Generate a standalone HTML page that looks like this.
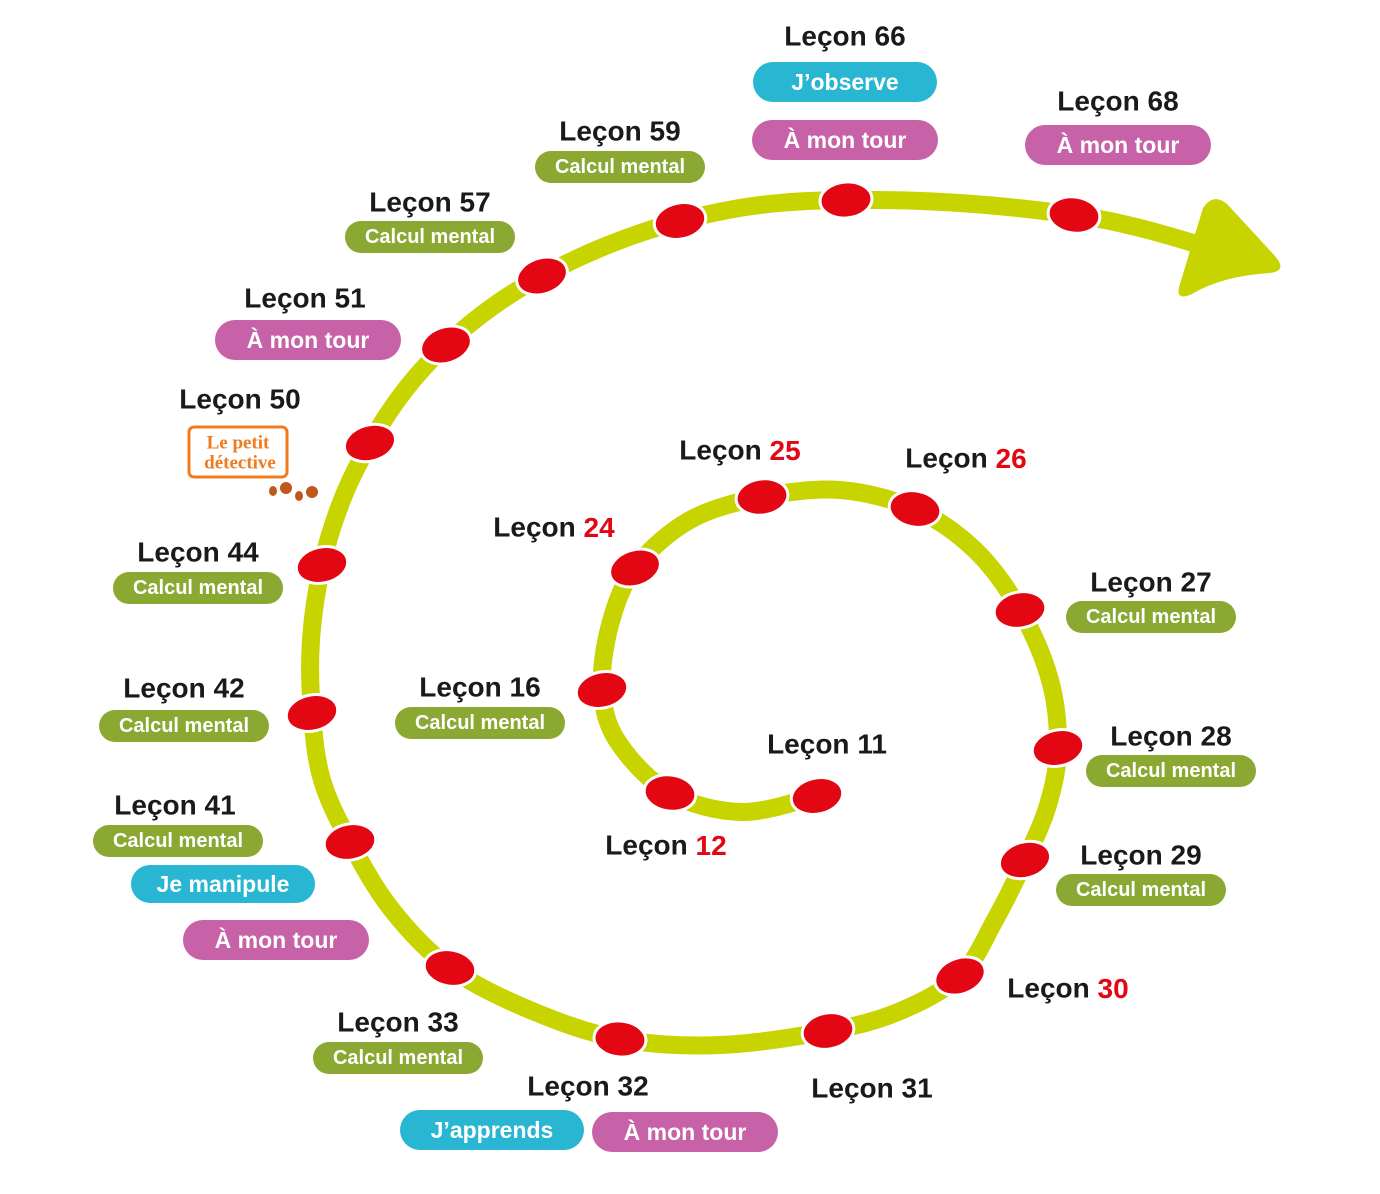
<!DOCTYPE html>
<html><head><meta charset="utf-8"><style>
html,body{margin:0;padding:0;background:#fff}
svg{display:block}
.t{font-family:"Liberation Sans",sans-serif;font-weight:bold;font-size:28px;fill:#1a1a1a;text-anchor:middle;dominant-baseline:central}
.r{fill:#e30613}
.p{font-family:"Liberation Sans",sans-serif;font-weight:bold;font-size:22px;fill:#fff;text-anchor:middle;dominant-baseline:central}
</style></head><body>
<svg id="s" width="1380" height="1194" viewBox="0 0 1380 1194" xmlns="http://www.w3.org/2000/svg">
<path id="sp" d="" fill="none" stroke="#c8d400" stroke-width="18" stroke-linecap="round"/>
<path d="M1203,208 Q1214,192 1228,205 L1275,256 Q1288,271 1270,273 Q1222,276 1192,294 Q1174,302 1180,284 Z" fill="#c8d400"/>
<g id="dots"></g>
<g id="lab"></g>
<g>
<rect x="189" y="427" width="98" height="50" rx="5" fill="#fff" stroke="#f07a1e" stroke-width="3"/>
<text x="238" y="443" font-family="Liberation Serif,serif" font-weight="bold" font-size="19" fill="#f07a1e" text-anchor="middle" dominant-baseline="central">Le petit</text>
<text x="240" y="463" font-family="Liberation Serif,serif" font-weight="bold" font-size="19" fill="#f07a1e" text-anchor="middle" dominant-baseline="central">détective</text>
<ellipse cx="273" cy="491" rx="4" ry="5" fill="#c0581e"/>
<ellipse cx="286" cy="488" rx="6" ry="6" fill="#c0581e"/>
<ellipse cx="299" cy="496" rx="4" ry="5" fill="#c0581e"/>
<ellipse cx="312" cy="492" rx="6" ry="6" fill="#c0581e"/>
</g>
</svg>
<script>
var P=[[817,796],[742,812],[670,793],[618,742],[602,690],[610,625],[635,568],[690,520],[762,497],[840,490],[915,509],[975,550],[1020,610],[1050,680],[1058,748],[1048,805],[1025,860],[995,920],[960,976],[898,1012],[828,1031],[720,1045],[620,1039],[530,1010],[450,968],[392,910],[350,842],[322,780],[312,713],[311,640],[322,565],[342,500],[370,443],[405,390],[446,345],[492,307],[542,276],[608,245],[680,221],[760,205],[846,200],[960,203],[1074,215],[1140,228],[1210,248]];
var d="M"+P[0];
for(var i=0;i<P.length-1;i++){var p0=P[Math.max(0,i-1)],p1=P[i],p2=P[i+1],p3=P[Math.min(P.length-1,i+2)];
d+=" C"+(p1[0]+(p2[0]-p0[0])/6)+","+(p1[1]+(p2[1]-p0[1])/6)+" "+(p2[0]-(p3[0]-p1[0])/6)+","+(p2[1]-(p3[1]-p1[1])/6)+" "+p2[0]+","+p2[1];}
document.getElementById("sp").setAttribute("d",d);
var D=[[817,796,-12],[670,793,8],[602,690,-12],[635,568,-18],[762,497,-8],[915,509,10],[1020,610,-10],[1058,748,-12],[1025,860,-15],[960,976,-20],[828,1031,-10],[620,1039,5],[450,968,10],[350,842,-10],[312,713,-12],[322,565,-12],[370,443,-15],[446,345,-18],[542,276,-18],[680,221,-12],[846,200,-5],[1074,215,8]];
var g=document.getElementById("dots"),h="";
D.forEach(function(q){h+='<ellipse cx="'+q[0]+'" cy="'+q[1]+'" rx="26" ry="18" transform="rotate('+q[2]+' '+q[0]+' '+q[1]+')" fill="#e30613" stroke="#fff" stroke-width="3"/>';});
g.innerHTML=h;
var T=[["66",845,36],["68",1118,101],["59",620,131],["57",430,202],["51",305,298],["50",240,399],["44",198,552],["42",184,688],["41",175,805],["33",398,1022],["32",588,1086],["31",872,1088],["30",1068,988,1],["29",1141,855],["28",1171,736],["27",1151,582],["26",966,458,1],["25",740,450,1],["24",554,527,1],["16",480,687],["11",827,744],["12",666,845,1]];
var C={g:"#8ba832",c:"#29b6d3",p:"#c862a8"};
var B=[["c","J’observe",845,82,184,40],["p","À mon tour",845,140,186,40],["p","À mon tour",1118,145,186,40],["g","Calcul mental",620,167,170,32],["g","Calcul mental",430,237,170,32],["p","À mon tour",308,340,186,40],["g","Calcul mental",198,588,170,32],["g","Calcul mental",184,726,170,32],["g","Calcul mental",178,841,170,32],["c","Je manipule",223,884,184,38],["p","À mon tour",276,940,186,40],["g","Calcul mental",398,1058,170,32],["c","J’apprends",492,1130,184,40],["p","À mon tour",685,1132,186,40],["g","Calcul mental",1141,890,170,32],["g","Calcul mental",1171,771,170,32],["g","Calcul mental",1151,617,170,32],["g","Calcul mental",480,723,170,32]];
var s="";
T.forEach(function(t){s+='<text class="t" x="'+t[1]+'" y="'+t[2]+'">Leçon '+(t[3]?'<tspan class="r">'+t[0]+'</tspan>':t[0])+'</text>';});
B.forEach(function(b){s+='<rect x="'+(b[2]-b[4]/2)+'" y="'+(b[3]-b[5]/2)+'" width="'+b[4]+'" height="'+b[5]+'" rx="'+(b[5]/2)+'" fill="'+C[b[0]]+'"/><text class="p" x="'+b[2]+'" y="'+b[3]+'" style="font-size:'+(b[0]=="g"?20:23)+'px">'+b[1]+'</text>';});
document.getElementById("lab").innerHTML=s;
</script>
</body></html>
